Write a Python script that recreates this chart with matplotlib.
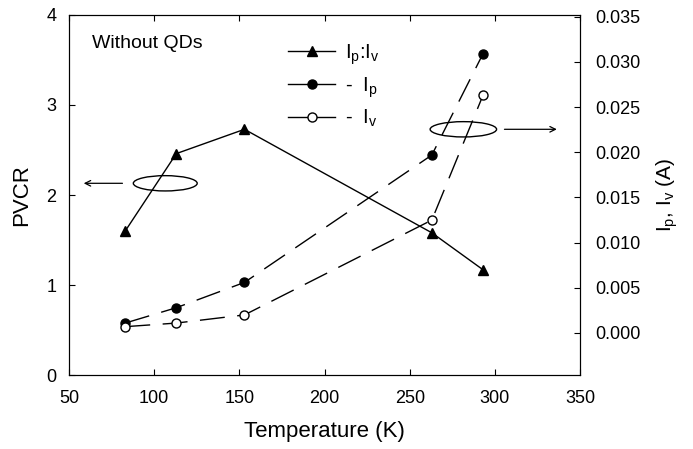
import matplotlib
matplotlib.use("Agg")
import matplotlib.pyplot as plt
from matplotlib.lines import Line2D
from matplotlib.patches import Ellipse

plt.rcParams['font.family'] = ['Liberation Sans', 'DejaVu Sans']
plt.rcParams['mathtext.default'] = 'regular'

# data
temperature = [83, 113, 153, 263, 293]
pvcr = [1.60, 2.46, 2.73, 1.58, 1.17]
i_peak = [0.0011, 0.0028, 0.0056, 0.0197, 0.0309]
i_valley = [0.0007, 0.0011, 0.0020, 0.0125, 0.0263]

x_ticks = [50, 100, 150, 200, 250, 300, 350]
left_ticks = [0, 1, 2, 3, 4]
right_ticks = [0.000, 0.005, 0.010, 0.015, 0.020, 0.025, 0.030, 0.035]

fig = plt.figure(figsize=(6.93, 4.49), dpi=100)
ax = fig.add_axes([0.0996, 0.1648, 0.7374, 0.8018])
ax2 = ax.twinx()

# PVCR, solid line with triangles
ax.plot(temperature, pvcr, color='black', lw=1, marker='^', ms=7, zorder=3)

# currents, long dashes with circles
ax2.plot(temperature, i_peak, color='black', lw=1, dashes=(18, 9),
         marker='o', ms=6.5, mfc='black', zorder=3)
ax2.plot(temperature, i_valley, color='black', lw=1, dashes=(18, 9),
         marker='o', ms=6.5, mfc='white', zorder=3)

ax.set_xlim(50, 350)
ax.set_ylim(0, 4)
ax2.set_ylim(-0.00465, 0.0352)
ax.set_xticks(x_ticks)
ax.set_yticks(left_ticks)
ax2.set_yticks(right_ticks)
ax2.set_yticklabels([f"{v:.3f}" for v in right_ticks])

ax.tick_params(direction='in', length=4, labelsize=13, top=True, width=0.8)
ax.tick_params(axis='x', pad=11)
ax.tick_params(axis='y', pad=9)
ax2.tick_params(direction='in', length=4, labelsize=13, pad=11, width=0.8)

ax.set_xlabel('Temperature (K)', fontsize=16, labelpad=10)
ax.set_ylabel('PVCR', fontsize=16, labelpad=10)
ax2.set_ylabel('I$_p$, I$_v$ (A)', fontsize=15, labelpad=10)

ax.text(0.045, 0.922, 'Without QDs', transform=ax.transAxes, fontsize=14,
        va='center', ha='left')

# ellipses with arrows pointing to each axis
ax.add_patch(Ellipse((106.5, 2.13), 37.5, 0.17, fill=False, lw=1, zorder=4))
ax.annotate('', xy=(57, 2.13), xytext=(83, 2.13),
            arrowprops=dict(arrowstyle='->', lw=0.9, color='black'))
ax.add_patch(Ellipse((281.5, 2.73), 39, 0.17, fill=False, lw=1, zorder=4))
ax.annotate('', xy=(338, 2.73), xytext=(304, 2.73),
            arrowprops=dict(arrowstyle='->', lw=0.9, color='black'))

handles = [
    Line2D([], [], color='black', lw=1, marker='^', ms=7),
    Line2D([], [], color='black', lw=1, marker='o', ms=6.5, mfc='black'),
    Line2D([], [], color='black', lw=1, marker='o', ms=6.5, mfc='white'),
]
labels = ['I$_p$:I$_v$', '-  I$_p$', '-  I$_v$']
ax.legend(handles, labels, loc='upper left', bbox_to_anchor=(0.394, 0.975),
          frameon=False, fontsize=14.5, handlelength=2.3, handletextpad=0.5,
          labelspacing=0.42)

fig.savefig('out.png', dpi=100)
